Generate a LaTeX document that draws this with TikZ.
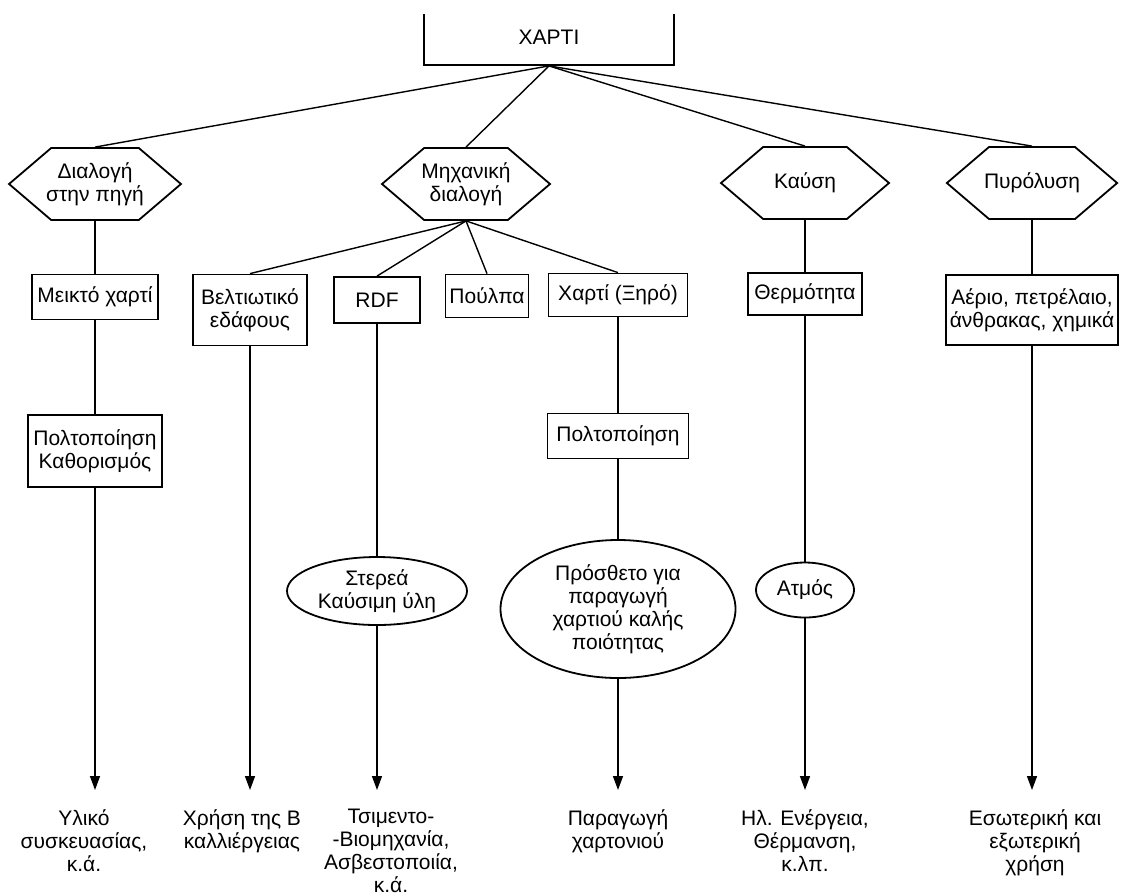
\documentclass[tikz,border=0pt]{standalone}
\usepackage{fontspec}
\setmainfont{Liberation Sans}
\usetikzlibrary{shapes.geometric,shapes.symbols,arrows.meta}

\begin{document}
\begin{tikzpicture}[
            x=0.5pt, y=-0.5pt,
            every node/.style={font=\fontsize{10.5}{11.5}\selectfont},
            box/.style={rectangle, draw, line width=0.9pt, align=center, inner sep=1pt},
            method/.style={signal, signal to=west and east, signal pointer angle=81, draw, line width=0.9pt, align=center, minimum width=84pt, minimum height=36pt, inner xsep=-2.5pt, inner ysep=1pt},
            product/.style={ellipse, draw, line width=0.9pt, align=center, inner sep=0pt},
            result/.style={align=center, anchor=north, inner sep=0pt},
            link/.style={line width=0.7pt},
            arrow/.style={-{Triangle[width=5pt,length=7pt]}, line width=0.7pt}
            ]
            \useasboundingbox (0,0) rectangle (1123,895);
            \clip (0,14) rectangle (1123,895);

            % Top
            \node[box, minimum width=125pt, minimum height=28pt] (paper) at (549,37) {ΧΑΡΤΙ};

            % Methods
            \node[method] (source) at (95,184) {Διαλογή\\στην πηγή};
            \node[method] (mech) at (466,184) {Μηχανική\\διαλογή};
            \node[method] (burn) at (805,183) {Καύση};
            \node[method] (pyro) at (1032,183) {Πυρόλυση};

            % Materials
            \node[box, minimum width=63pt, minimum height=22.5pt] (mixed) at (95,297) {Μεικτό χαρτί};
            \node[box, minimum width=57pt, minimum height=35.5pt] (soil) at (250,310) {Βελτιωτικό\\εδάφους};
            \node[box, minimum width=43pt, minimum height=23pt] (rdf) at (377,300) {RDF};
            \node[box, minimum width=41.5pt, minimum height=21.5pt] (pulp) at (487,296) {Πούλπα};
            \node[box, minimum width=69.5pt, minimum height=21.5pt] (dry) at (618,295) {Χαρτί (Ξηρό)};
            \node[box, minimum width=57pt, minimum height=21pt] (heat) at (805,294) {Θερμότητα};
            \node[box, minimum width=86pt, minimum height=35pt] (gas) at (1032,310) {Αέριο, πετρέλαιο,\\άνθρακας, χημικά};

            % Processing
            \node[box, minimum width=67pt, minimum height=36pt] (mash) at (95,451) {Πολτοποίηση\\Καθορισμός};
            \node[box, minimum width=70.5pt, minimum height=22.5pt] (mash2) at (618,436) {Πολτοποίηση};
            \node[product, minimum width=90pt, minimum height=34pt] (fuel) at (377,591) {Στερεά\\Καύσιμη ύλη};
            \node[product, minimum width=117.5pt, minimum height=69pt] (additive) at (618,609) {Πρόσθετο για\\παραγωγή\\χαρτιού καλής\\ποιότητας};
            \node[product, minimum width=49pt, minimum height=27.5pt] (steam) at (805,590) {Ατμός};

            % Arrow ends
            \coordinate (end1) at (95,790);
            \coordinate (end2) at (250,790);
            \coordinate (end3) at (377,790);
            \coordinate (end4) at (618,790);
            \coordinate (end5) at (805,790);
            \coordinate (end6) at (1032,790);

            % Uses
            \node[result] (use1) at (84,809) {Υλικό\\συσκευασίας,\\κ.ά.};
            \node[result] (use2) at (242,809) {Χρήση της Β\\καλλιέργειας};
            \node[result] (use3) at (391,809) {Τσιμεντο-\\-Βιομηχανία,\\Ασβεστοποιία,\\κ.ά.};
            \node[result] (use4) at (618,809) {Παραγωγή\\χαρτονιού};
            \node[result] (use5) at (805,809) {Ηλ. Ενέργεια,\\Θέρμανση,\\κ.λπ.};
            \node[result] (use6) at (1035,809) {Εσωτερική και\\εξωτερική\\χρήση};

            % Links
            \draw[link] (paper.south) -- (source.north);
            \draw[link] (paper.south) -- (mech.north);
            \draw[link] (paper.south) -- (burn.north);
            \draw[link] (paper.south) -- (pyro.north);
            \draw[link] (mech.south) -- (soil.north);
            \draw[link] (mech.south) -- (rdf.north);
            \draw[link] (mech.south) -- (pulp.north);
            \draw[link] (mech.south) -- (dry.north);
            \draw[link] (source.south) -- (mixed.north);
            \draw[link] (mixed.south) -- (mash.north);
            \draw[link] (rdf.south) -- (fuel.north);
            \draw[link] (dry.south) -- (mash2.north);
            \draw[link] (mash2.south) -- (additive.north);
            \draw[link] (burn.south) -- (heat.north);
            \draw[link] (heat.south) -- (steam.north);
            \draw[link] (pyro.south) -- (gas.north);

            % Arrows
            \draw[arrow] (mash.south) -- (end1);
            \draw[arrow] (soil.south) -- (end2);
            \draw[arrow] (fuel.south) -- (end3);
            \draw[arrow] (additive.south) -- (end4);
            \draw[arrow] (steam.south) -- (end5);
            \draw[arrow] (gas.south) -- (end6);

        \end{tikzpicture}
\end{document}
